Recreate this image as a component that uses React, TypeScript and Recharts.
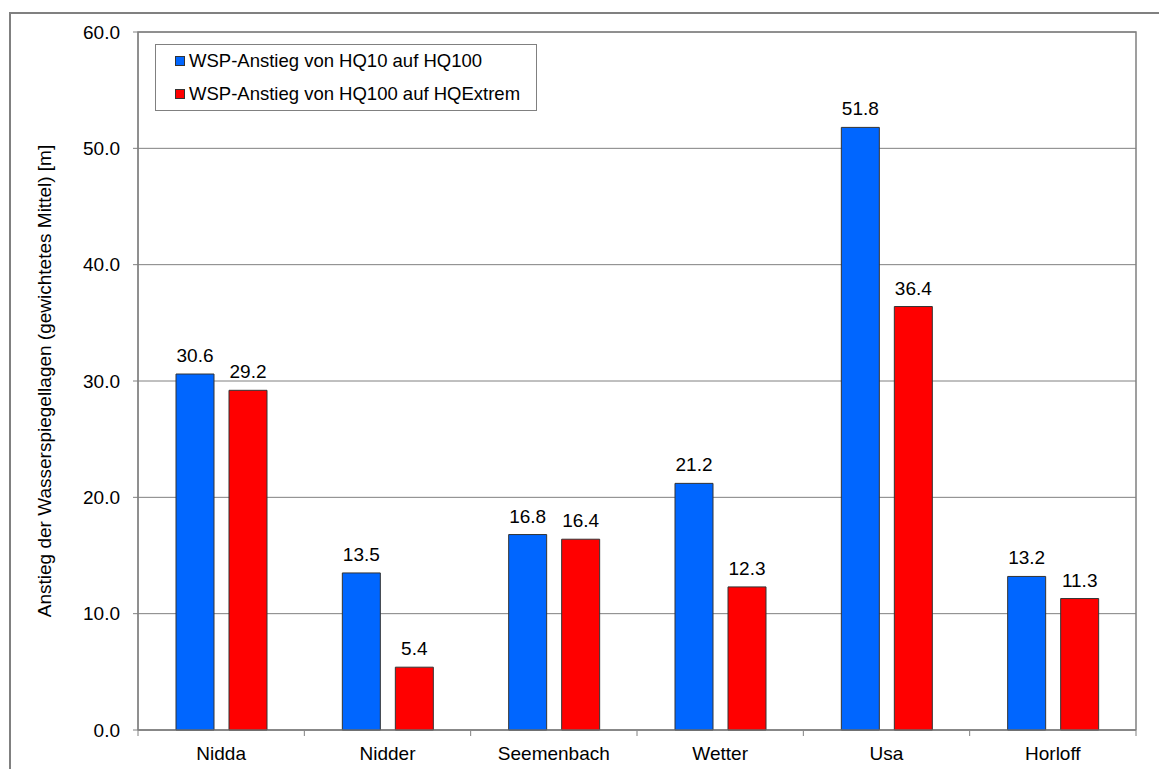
import {
  BarChart,
  Bar,
  XAxis,
  YAxis,
  CartesianGrid,
  Legend,
  LabelList,
  ReferenceArea,
} from 'recharts'

const categories = ['Nidda', 'Nidder', 'Seemenbach', 'Wetter', 'Usa', 'Horloff']
const hq10ToHq100 = [30.6, 13.5, 16.8, 21.2, 51.8, 13.2]
const hq100ToExtrem = [29.2, 5.4, 16.4, 12.3, 36.4, 11.3]
const yTicks = [0, 10, 20, 30, 40, 50, 60]
const boundaryTicks = [0, 1, 2, 3, 4, 5, 6]

const seriesNames = {
  a: 'WSP-Anstieg von HQ10 auf HQ100',
  b: 'WSP-Anstieg von HQ100 auf HQExtrem',
}

const data = categories.map((name, i) => ({
  name,
  slot: i + 0.5,
  a: hq10ToHq100[i],
  b: hq100ToExtrem[i],
}))

const font = '"Liberation Sans", Arial, sans-serif'
const gray = '#808080'

function LegendBox({ payload }: any) {
  return (
    <div
      style={{
        border: `1px solid ${gray}`,
        background: '#fff',
        width: 382,
        height: 67,
        boxSizing: 'border-box',
        fontFamily: font,
        fontSize: 18.5,
        color: '#000',
      }}
    >
      {(payload || []).map((entry: any) => (
        <div
          key={entry.value}
          style={{ height: 32.5, display: 'flex', alignItems: 'center', paddingLeft: 19 }}
        >
          <span
            style={{
              display: 'inline-block',
              width: 8,
              height: 8,
              background: entry.color,
              border: '1px solid #333',
              marginRight: 4,
            }}
          />
          <span>{entry.value}</span>
        </div>
      ))}
    </div>
  )
}

function YLabel({ viewBox }: any) {
  const cy = viewBox.y + viewBox.height / 2
  return (
    <text
      x={51}
      y={cy}
      transform={`rotate(-90, 51, ${cy})`}
      textAnchor="middle"
      fontSize={19}
      fontFamily={font}
      fill="#000"
    >
      Anstieg der Wasserspiegellagen (gewichtetes Mittel) [m]
    </text>
  )
}

export default function App() {
  return (
    <div
      style={{
        position: 'absolute',
        left: 0,
        top: 0,
        width: 1159,
        height: 769,
        overflow: 'hidden',
        background: '#fff',
      }}
    >
      <div
        style={{
          position: 'absolute',
          left: 9,
          top: 12,
          width: 1160,
          height: 800,
          border: `2px solid ${gray}`,
          boxSizing: 'border-box',
        }}
      />
      <BarChart
        width={1159}
        height={769}
        data={data}
        margin={{ top: 32, right: 23, left: 0, bottom: 0 }}
        barSize={38}
        barGap={15}
        style={{ fontFamily: font }}
      >
        <CartesianGrid xAxisId="cat" vertical={false} stroke={gray} />
        <ReferenceArea xAxisId="cat" y1={0} y2={60} fill="none" stroke={gray} strokeWidth={1.5} />
        <XAxis
          xAxisId="cat"
          dataKey="name"
          height={1}
          axisLine={{ stroke: gray }}
          tickLine={false}
          tickSize={6}
          tickMargin={11}
          tick={{ fontSize: 19, fill: '#000' }}
        />
        <XAxis
          xAxisId="ticks"
          dataKey="slot"
          type="number"
          domain={[0, 6]}
          ticks={boundaryTicks}
          interval={0}
          allowDataOverflow
          height={38}
          axisLine={false}
          tickSize={5}
          tickLine={{ stroke: gray }}
          tickFormatter={() => ' '}
        />
        <YAxis
          width={138}
          domain={[0, 60]}
          ticks={yTicks}
          tickFormatter={(v: number) => v.toFixed(1)}
          axisLine={{ stroke: gray }}
          tickLine={{ stroke: gray }}
          tickSize={5}
          tickMargin={13}
          tick={{ fontSize: 19, fill: '#000' }}
          label={<YLabel />}
        />
        <Legend
          layout="vertical"
          align="center"
          verticalAlign="middle"
          content={<LegendBox />}
          wrapperStyle={{ left: 155, top: 44, width: 382, height: 67 }}
        />
        <Bar
          xAxisId="cat"
          dataKey="a"
          name={seriesNames.a}
          fill="#0066FF"
          stroke="#333"
          strokeWidth={1}
          isAnimationActive={false}
        >
          <LabelList
            dataKey="a"
            position="top"
            offset={12}
            fontSize={19}
            fill="#000"
            formatter={(v: any) => Number(v).toFixed(1)}
          />
        </Bar>
        <Bar
          xAxisId="cat"
          dataKey="b"
          name={seriesNames.b}
          fill="#FF0000"
          stroke="#333"
          strokeWidth={1}
          isAnimationActive={false}
        >
          <LabelList
            dataKey="b"
            position="top"
            offset={12}
            fontSize={19}
            fill="#000"
            formatter={(v: any) => Number(v).toFixed(1)}
          />
        </Bar>
      </BarChart>
    </div>
  )
}
